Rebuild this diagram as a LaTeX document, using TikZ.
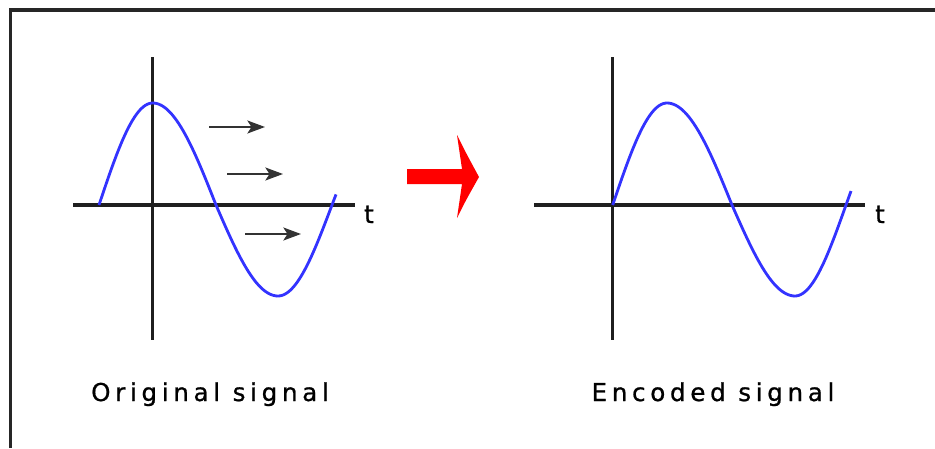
\documentclass[tikz,border=0pt]{standalone}
\usepackage{fontspec}
\setmainfont{DejaVu Sans}[FakeBold=0.8]
\newfontfamily\capfont[LetterSpace=19,FakeBold=0.8]{DejaVu Sans}
\usetikzlibrary{arrows.meta}
\definecolor{sigblue}{RGB}{51,51,255}

\begin{document}
\begin{tikzpicture}[
  x=0.03cm, y=-0.03cm,
  frame/.style={line width=2.6pt, black!85},
  axis/.style={line width=2.6pt, black!88},
  wave/.style={line width=2.4pt, sigblue},
  motion/.style={-{Stealth[length=15pt,width=11pt,inset=3.5pt]}, line width=2.1pt, black!80},
  caption/.style={font=\fontsize{21}{24}\capfont, anchor=base},
  tlabel/.style={font=\fontsize{21}{24}\selectfont, anchor=base}]
  \useasboundingbox (0,0) rectangle (935,448);
  \draw[frame] (10.5,448) -- (10.5,10) -- (935,10);

  % original signal
  \coordinate (lxl) at (73,205);
  \coordinate (lxr) at (355,205);
  \coordinate (lyt) at (152.7,57);
  \coordinate (lyb) at (152.7,340);
  \draw[axis] (lxl) -- (lxr);
  \draw[axis] (lyt) -- (lyb);
  \node[tlabel] (lt) at (369,223) {t};
  \draw[wave] plot[domain=99:152.7, samples=30] (\x, {205-102*cos((\x-152.7)*90/53.7)})
    -- plot[domain=152.7:216, samples=30] (\x, {205-102*cos((\x-152.7)*90/63.3)})
    -- plot[domain=216:278, samples=30] (\x, {205+91*sin((\x-216)*90/62)})
    -- plot[domain=278:336, samples=30] (\x, {205+91*cos((\x-278)*90/54)});
  \foreach \i/\xs/\ys in {1/209/127, 2/227/174, 3/245/234} {
    \coordinate (m\i s) at (\xs,\ys);
    \coordinate (m\i e) at (\xs+56,\ys);
    \draw[motion] (m\i s) -- (m\i e);
  }
  \node[caption] (orig) at (210,401) {Original signal};

  % red arrow
  \fill[red] (407,169) -- (462,169) -- (457,135) .. controls (466,153) .. (479,177)
    .. controls (466,200) .. (457,218) -- (462,184) -- (407,184) -- cycle;

  % encoded signal
  \coordinate (rxl) at (534,205);
  \coordinate (rxr) at (865,205);
  \coordinate (ryt) at (612.7,57);
  \coordinate (ryb) at (612.7,340);
  \draw[axis] (rxl) -- (rxr);
  \draw[axis] (ryt) -- (ryb);
  \node[tlabel] (rt) at (880,223) {t};
  \draw[wave] plot[domain=612.7:667, samples=30] (\x, {205-102*sin((\x-612.7)*90/54.3)})
    -- plot[domain=667:732, samples=30] (\x, {205-102*cos((\x-667)*90/65)})
    -- plot[domain=732:795, samples=30] (\x, {205+91*sin((\x-732)*90/63)})
    -- plot[domain=795:851, samples=30] (\x, {205+91*cos((\x-795)*90/51)});
  \node[caption] (enc) at (713,401) {Encoded signal};
\end{tikzpicture}
\end{document}
